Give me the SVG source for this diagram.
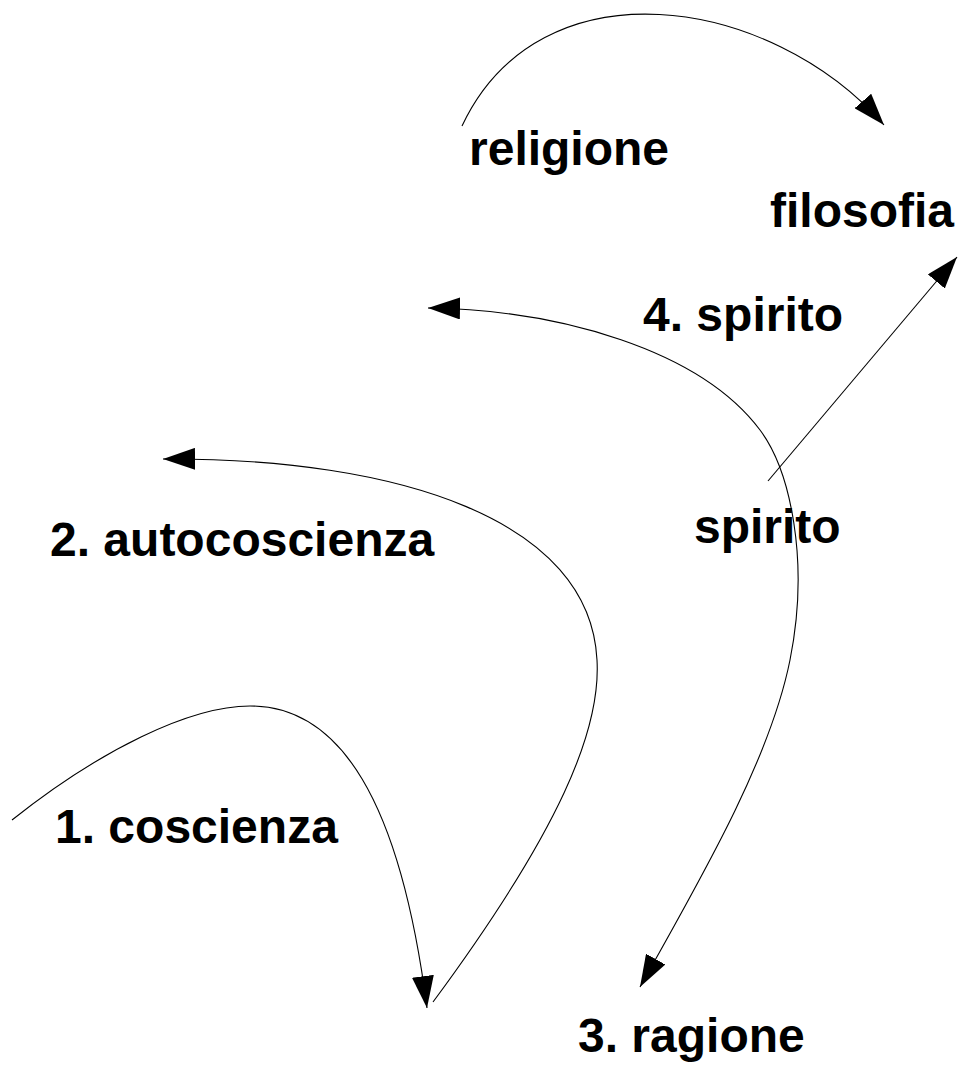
<svg xmlns="http://www.w3.org/2000/svg" width="960" height="1070" viewBox="0 0 960 1070">
<style>
.t{font-family:"Liberation Sans",Arial,sans-serif;font-weight:bold;font-size:48px;fill:#000}
.c{fill:none;stroke:#000;stroke-width:1.1}
</style>
<defs>
<marker id="ah" markerUnits="userSpaceOnUse" markerWidth="32" markerHeight="22" refX="32" refY="11" orient="auto-start-reverse">
<path d="M0,0 L32,11 L0,22 z" fill="#000"/>
</marker>
</defs>
<rect width="960" height="1070" fill="#fff"/>
<g id="connectors">
<path class="c" d="M462,126 C540,-40 770,-5 884,125" marker-end="url(#ah)"/>
<path class="c" d="M768,481 L957,257" marker-end="url(#ah)"/>
<path class="c" d="M428,308 C560,310 700,350 760,430 C790,470 810,560 790,660 C770,760 700,880 640,987" marker-start="url(#ah)" marker-end="url(#ah)"/>
<path class="c" d="M433,1002 C560,830 601,730 597,660 C590,520 400,458 163,459" marker-end="url(#ah)"/>
<path class="c" d="M12,820 C100,750 190,706 250,706 C340,706 400,800 427,1008" marker-end="url(#ah)"/>
</g>
<g id="religione"><text class="t" x="469" y="165">religione</text></g>
<g id="filosofia"><text class="t" x="770" y="227">filosofia</text></g>
<g id="spirito4"><text class="t" x="643" y="331">4. spirito</text></g>
<g id="spirito"><text class="t" x="694" y="543">spirito</text></g>
<g id="autocoscienza"><text class="t" x="50" y="556">2. autocoscienza</text></g>
<g id="coscienza"><text class="t" x="55" y="843">1. coscienza</text></g>
<g id="ragione"><text class="t" x="578" y="1052">3. ragione</text></g>
</svg>
